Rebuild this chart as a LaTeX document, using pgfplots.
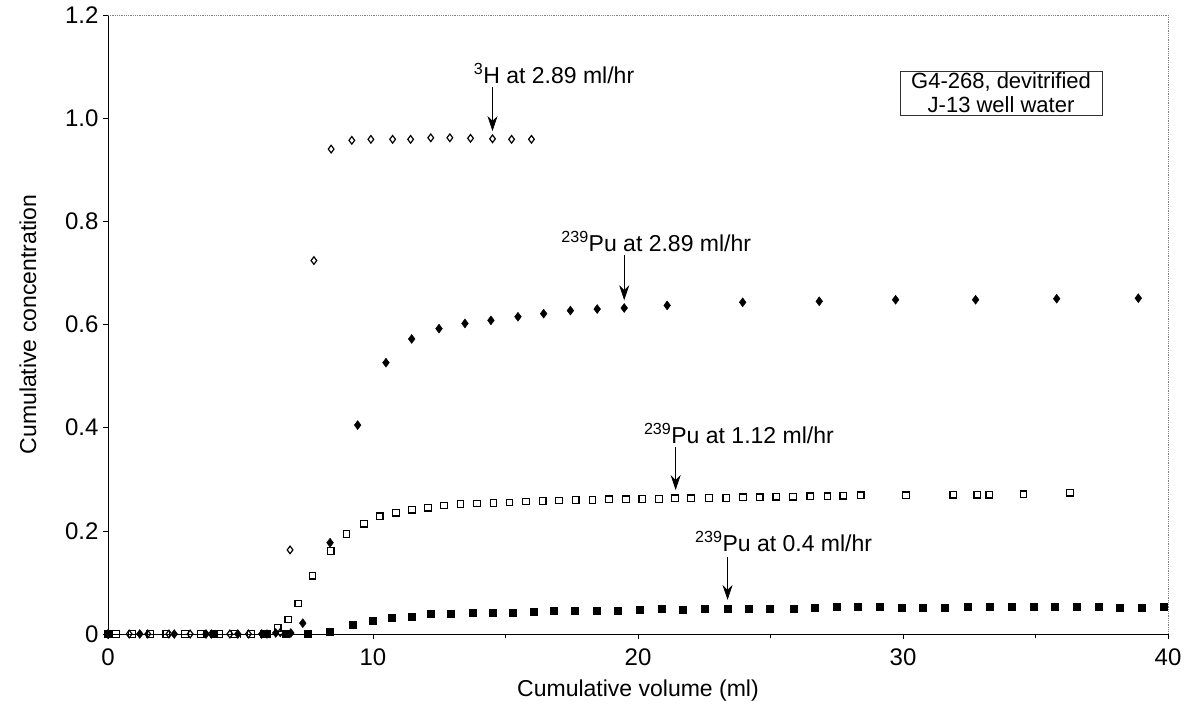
\documentclass[border=0pt]{standalone}
\usepackage{fontspec}
\setmainfont{Liberation Sans}
\usepackage{pgfplots}
\pgfplotsset{compat=1.18}
\usetikzlibrary{arrows.meta}
\begin{document}
\begin{tikzpicture}
\path[use as bounding box] (-108pt,-71pt) rectangle (1086pt,634pt);
\begin{axis}[
  scale only axis, width=1060pt, height=619pt,
  xmin=0, xmax=40, ymin=0, ymax=1.2,
  axis x line*=bottom, axis y line*=left,
  axis line style={black, line width=0.8pt, -},
  xtick={0,10,20,30,40}, minor xtick={5,15,25,35},
  ytick={0,0.2,0.4,0.6,0.8,1.0,1.2},
  yticklabels={0,0.2,0.4,0.6,0.8,1.0,1.2},
  xticklabels={0,10,20,30,40},
  tick align=outside, major tick length=5pt, minor tick length=4pt,
  tick style={black, line width=0.6pt},
  ticklabel style={font=\fontsize{24}{26}\selectfont},
  xticklabel style={yshift=-6pt},
  yticklabel style={xshift=-1pt},
  xlabel={Cumulative volume (ml)}, ylabel={Cumulative concentration},
  label style={font=\fontsize{23}{26}\selectfont},
  xlabel style={at={(axis description cs:0.5,0)}, anchor=center, yshift=-57pt},
  ylabel style={at={(axis description cs:-0.0755,0.5)}, anchor=center},
  clip=false,
]
% 3H at 2.89 ml/hr (open diamonds)
\addplot[only marks, mark=diamond, mark size=3.8pt, mark options={line width=1.2pt, draw=black, fill=white}] coordinates {
(0,0) (0.8,0) (1.5,0) (2.3,0) (3.1,0) (3.9,0) (4.6,0) (5.3,0) (6.0,0) (6.5,0.003)
(6.87,0.163) (7.77,0.724) (8.42,0.94) (9.2,0.957) (9.92,0.959) (10.74,0.959) (11.42,0.959)
(12.18,0.962) (12.9,0.962) (13.68,0.961) (14.51,0.96) (15.23,0.959) (15.98,0.959)
};
% 239Pu at 2.89 ml/hr (filled diamonds)
\addplot[only marks, mark=diamond*, mark size=4.5pt, mark options={draw=black, fill=black}] coordinates {
(0,0) (1.2,0) (2.5,0) (3.7,0) (4.9,0) (5.8,0) (6.33,0.002) (6.9,0.002) (7.35,0.021)
(8.38,0.177) (9.42,0.405) (10.49,0.526) (11.46,0.572) (12.49,0.592) (13.47,0.602)
(14.45,0.608) (15.47,0.615) (16.44,0.621) (17.45,0.627) (18.46,0.630) (19.48,0.632)
(21.1,0.637) (23.95,0.643) (26.84,0.645) (29.72,0.648) (32.74,0.648) (35.8,0.650) (38.88,0.651)
};
% 239Pu at 1.12 ml/hr (open squares)
\addplot[only marks, mark=square, mark size=3.3pt, mark options={line width=1.2pt, draw=black, fill=white}] coordinates {
(0.3,0) (0.9,0) (1.6,0) (2.2,0) (2.9,0) (3.5,0) (4.2,0) (4.8,0) (5.4,0) (5.9,0)
(6.4,0.012) (6.8,0.028) (7.18,0.059) (7.72,0.113) (8.4,0.161) (9.0,0.194) (9.66,0.214)
(10.25,0.228) (10.87,0.235) (11.47,0.241) (12.08,0.245) (12.68,0.249) (13.3,0.252)
(13.93,0.253) (14.55,0.254) (15.15,0.255) (15.77,0.257) (16.4,0.258) (17.02,0.259)
(17.65,0.260) (18.28,0.260) (18.91,0.261) (19.54,0.261) (20.16,0.262) (20.79,0.262)
(21.4,0.263) (22.0,0.263) (22.68,0.264) (23.33,0.264) (23.96,0.265) (24.59,0.265)
(25.22,0.266) (25.85,0.266) (26.5,0.267) (27.15,0.267) (27.75,0.268) (28.4,0.269)
(30.11,0.269) (31.9,0.270) (32.8,0.270) (33.26,0.270) (34.55,0.271) (36.3,0.274)
};
% 239Pu at 0.4 ml/hr (filled squares)
\addplot[only marks, mark=square*, mark size=3.5pt, mark options={draw=black, fill=black}] coordinates {
(0,0) (4.0,0) (6.0,0) (6.7,0) (7.52,0) (8.38,0.005) (9.23,0.018) (9.97,0.025) (10.7,0.031)
(11.45,0.034) (12.19,0.039) (12.94,0.040) (13.75,0.041) (14.51,0.041) (15.27,0.041)
(16.05,0.043) (16.8,0.046) (17.62,0.045) (18.44,0.046) (19.22,0.046) (20.08,0.047)
(20.89,0.050) (21.67,0.048) (22.5,0.049) (23.37,0.049) (24.16,0.050) (24.98,0.050)
(25.86,0.050) (26.68,0.051) (27.5,0.052) (28.3,0.052) (29.13,0.052) (29.95,0.051)
(30.76,0.051) (31.58,0.051) (32.46,0.053) (33.28,0.053) (34.1,0.053) (34.92,0.052)
(35.74,0.052) (36.55,0.053) (37.37,0.052) (38.19,0.051) (39.0,0.051) (39.82,0.052)
};
% frame top/right
\draw[gray, densely dotted, line width=0.8pt] (rel axis cs:0,1) -- (rel axis cs:1,1) -- (rel axis cs:1,0);
% annotations
\tikzset{ann/.style={font=\fontsize{23}{25}\selectfont, inner sep=0pt},
         arr/.style={line width=0.7pt, -{Stealth[length=15pt,width=10pt]}}}
\node[ann, anchor=west] at (axis cs:13.8,1.087) {\textsuperscript{3}H at 2.89 ml/hr};
\draw[arr] (axis cs:14.51,1.06) -- (axis cs:14.51,0.975);
\node[ann, anchor=west] at (axis cs:17.1,0.760) {\textsuperscript{239}Pu at 2.89 ml/hr};
\draw[arr] (axis cs:19.48,0.735) -- (axis cs:19.48,0.647);
\node[ann, anchor=west] at (axis cs:20.22,0.389) {\textsuperscript{239}Pu at 1.12 ml/hr};
\draw[arr] (axis cs:21.42,0.363) -- (axis cs:21.42,0.279);
\node[ann, anchor=west] at (axis cs:22.15,0.179) {\textsuperscript{239}Pu at 0.4 ml/hr};
\draw[arr] (axis cs:23.38,0.15) -- (axis cs:23.38,0.066);
\node[draw=black!80, line width=0.6pt, align=center, font=\fontsize{22}{24}\selectfont,
      inner xsep=11pt, inner ysep=2pt, fill=white] at (axis cs:33.7,1.049)
      {G4-268, devitrified\\J-13 well water};
\end{axis}
\end{tikzpicture}
\end{document}
